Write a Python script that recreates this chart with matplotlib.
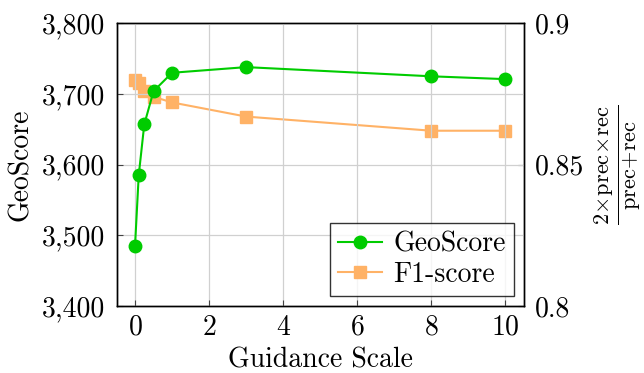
import matplotlib
matplotlib.use('Agg')
import matplotlib.pyplot as plt
from matplotlib.ticker import FuncFormatter

plt.rcParams['font.family'] = 'serif'
plt.rcParams['font.serif'] = ['cmr10']
plt.rcParams['mathtext.fontset'] = 'cm'
plt.rcParams['axes.formatter.use_mathtext'] = True

# guidance scale sweep
scales = [0, 0.1, 0.25, 0.5, 1, 3, 8, 10]
geoscore = [3485, 3585, 3657, 3704, 3730, 3738, 3725, 3721]
f1_score = [0.880, 0.879, 0.876, 0.874, 0.872, 0.867, 0.862, 0.862]

x_ticks = [0, 2, 4, 6, 8, 10]
geo_ticks = [3400, 3500, 3600, 3700, 3800]
f1_ticks = [0.8, 0.85, 0.9]

green = '#00cc00'
orange = '#ffb266'
fs = 20

fig = plt.figure(figsize=(6.44, 3.73), dpi=100)
ax = fig.add_axes([116.5 / 644, 1 - 306 / 373, (524 - 116.5) / 644, (306 - 23.3) / 373])
ax2 = ax.twinx()

l1, = ax.plot(scales, geoscore, color=green, marker='o', markersize=9, lw=1.5,
              label='GeoScore', zorder=5)
l2, = ax2.plot(scales, f1_score, color=orange, marker='s', markersize=9, lw=1.5,
               label='F1-score', zorder=4)

ax.set_xlim(-0.5, 10.5)
ax.set_ylim(3400, 3800)
ax2.set_ylim(0.8, 0.9)
ax.set_xticks(x_ticks)
ax.set_yticks(geo_ticks)
ax2.set_yticks(f1_ticks)
ax.yaxis.set_major_formatter(FuncFormatter(lambda v, p: f'{int(v):,}'))
ax2.yaxis.set_major_formatter(FuncFormatter(lambda v, p: f'{v:g}'))

ax.grid(True, color='#d0d0d0', lw=0.9)
ax.set_axisbelow(True)
ax.tick_params(axis='both', direction='in', labelsize=fs, length=4, color='#444444')
ax2.tick_params(axis='y', direction='in', labelsize=fs, length=4, color='#444444')
ax.tick_params(axis='x', pad=6)
ax.tick_params(axis='y', pad=8)
ax2.tick_params(axis='y', pad=8)
for a in (ax, ax2):
    for s in a.spines.values():
        s.set_linewidth(1.0)

ax.set_xlabel('Guidance Scale', fontsize=fs, labelpad=5)
ax.set_ylabel('GeoScore', fontsize=fs, labelpad=6)
ax2.set_ylabel(r'$\frac{2\!\times\!\mathrm{prec}\!\times\!\mathrm{rec}}{\mathrm{prec}\!+\!\mathrm{rec}}$',
               fontsize=fs + 3, labelpad=6)

ax.set_zorder(ax2.get_zorder() + 1)
ax.patch.set_visible(False)

leg = ax.legend(handles=[l1, l2], loc='lower right', fontsize=fs, frameon=True,
                fancybox=False, edgecolor='black', borderaxespad=0.35,
                handlelength=1.6, handletextpad=0.4, labelspacing=0.15, borderpad=0.3)
leg.get_frame().set_linewidth(1.0)

fig.savefig('out.png', dpi=100)
